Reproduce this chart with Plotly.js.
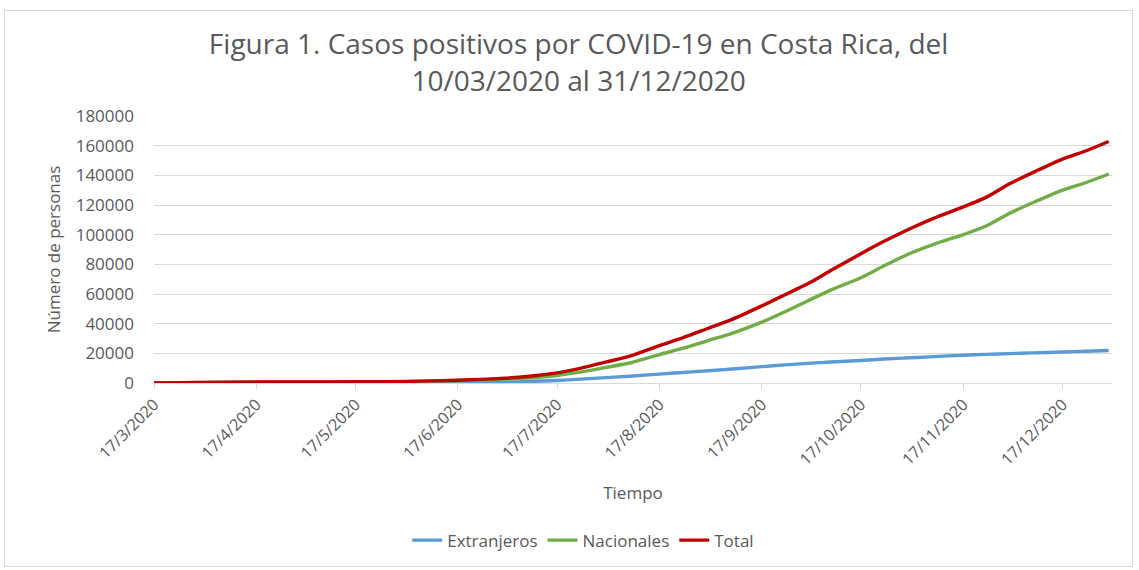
<!DOCTYPE html>
<html>
<head>
<meta charset="utf-8">
<script src="https://cdn.plot.ly/plotly-3.0.1.min.js"></script>
<style>
  html, body { margin: 0; padding: 0; background: #ffffff; }
  #chart { width: 1139px; height: 570px; }
  #frame { position: absolute; left: 4px; top: 10px; width: 1127px; height: 555px;
           border: 1px solid #d9d9d9; pointer-events: none; }
</style>
</head>
<body>
<div id="chart"></div>
<div id="frame"></div>
<script>
// Dates of the readings
const dates = [
  '2020-03-17','2020-04-01','2020-04-17','2020-05-01','2020-05-17','2020-06-01',
  '2020-06-17','2020-06-24','2020-07-01','2020-07-08','2020-07-17','2020-07-24',
  '2020-08-01','2020-08-08','2020-08-17','2020-08-24','2020-09-01','2020-09-08',
  '2020-09-17','2020-09-24','2020-10-01','2020-10-08','2020-10-17','2020-10-24',
  '2020-11-01','2020-11-08','2020-11-17','2020-11-24','2020-12-01','2020-12-08',
  '2020-12-17','2020-12-24','2020-12-31'
];
// Foreign cases (Extranjeros)
const extranjeros = [
  10, 30, 50, 60, 80, 120,
  250, 400, 600, 1000, 1700, 2600,
  3600, 4600, 6000, 7100, 8300, 9400,
  11000, 12200, 13200, 14200, 15200, 16200,
  17000, 17800, 18700, 19300, 19800, 20300,
  20900, 21400, 21900
];
// National cases (Nacionales)
const nacionales = [
  40, 320, 580, 660, 780, 930,
  1650, 2050, 2600, 3400, 5100, 7300,
  10600, 13500, 19200, 23300, 28800, 33500,
  41000, 48000, 55500, 62800, 71000, 79000,
  87500, 93500, 100000, 106000, 114500, 121500,
  130000, 135000, 140900
];
// Total cases
const total = [
  50, 350, 630, 720, 860, 1050,
  1900, 2450, 3200, 4400, 6800, 9900,
  14200, 18100, 25200, 30400, 37100, 42900,
  52000, 59500, 67000, 76000, 87200, 95500,
  104200, 111000, 118700, 125300, 134300, 141800,
  150900, 156400, 162800
];
// X tick positions and labels
const tickDates = ['2020-03-17','2020-04-17','2020-05-17','2020-06-17','2020-07-17',
  '2020-08-17','2020-09-17','2020-10-17','2020-11-17','2020-12-17'];
const tickLabels = ['17/3/2020','17/4/2020','17/5/2020','17/6/2020','17/7/2020',
  '17/8/2020','17/9/2020','17/10/2020','17/11/2020','17/12/2020'];
const yTicks = [0,20000,40000,60000,80000,100000,120000,140000,160000,180000];

const FONT = '"Open Sans", "DejaVu Sans", sans-serif';
const GREY = '#595959';

const traces = [
  {x: dates, y: extranjeros, name: 'Extranjeros', type: 'scatter', mode: 'lines',
   line: {color: '#5B9BD5', width: 3.4, shape: 'spline', smoothing: 0.6}},
  {x: dates, y: nacionales, name: 'Nacionales', type: 'scatter', mode: 'lines',
   line: {color: '#70AD47', width: 3.4, shape: 'spline', smoothing: 0.6}},
  {x: dates, y: total, name: 'Total', type: 'scatter', mode: 'lines',
   line: {color: '#C00000', width: 3.4, shape: 'spline', smoothing: 0.6}}
];

const layout = {
  width: 1139, height: 570,
  margin: {l: 154, r: 27, t: 116, b: 183},
  paper_bgcolor: '#ffffff', plot_bgcolor: '#ffffff',
  font: {family: FONT, color: GREY},
  title: {
    text: 'Figura 1. Casos positivos por COVID-19 en Costa Rica, del<br>10/03/2020 al 31/12/2020',
    font: {family: FONT, size: 28, color: GREY},
    x: 0.508, xref: 'container', xanchor: 'center',
    y: 0.905, yref: 'container', yanchor: 'middle'
  },
  xaxis: {
    type: 'date',
    range: ['2020-03-17', '2021-01-01'],
    tickvals: tickDates, ticktext: tickLabels,
    tickangle: -45,
    tickfont: {family: FONT, size: 16, color: GREY},
    showgrid: false, zeroline: false,
    showline: true, linecolor: '#d9d9d9', linewidth: 1,
    ticks: 'outside', ticklen: 5, tickcolor: '#d9d9d9',
    automargin: false,
    title: {text: 'Tiempo', font: {family: FONT, size: 17, color: GREY}, standoff: 18}
  },
  yaxis: {
    range: [0, 180000],
    tickvals: yTicks, tickformat: 'd',
    tickfont: {family: FONT, size: 17, color: GREY},
    showgrid: true, gridcolor: '#d9d9d9', gridwidth: 1,
    zeroline: false, showline: false, ticks: '',
    ticklabelstandoff: 19,
    automargin: false,
    title: {text: 'Número de personas', font: {family: FONT, size: 17, color: GREY}, standoff: 10}
  },
  showlegend: true,
  legend: {
    orientation: 'h', x: 0.448, xanchor: 'center', y: -0.59, yanchor: 'middle',
    font: {family: FONT, size: 17, color: GREY},
    traceorder: 'normal', bgcolor: 'rgba(0,0,0,0)'
  }
};

Plotly.newPlot('chart', traces, layout, {displayModeBar: false, staticPlot: true});
</script>
</body>
</html>
